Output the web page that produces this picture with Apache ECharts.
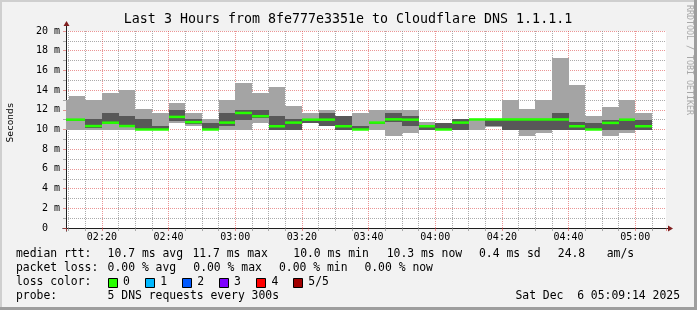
<!DOCTYPE html>
<html><head><meta charset="utf-8">
<script src="https://cdn.jsdelivr.net/npm/echarts@6/dist/echarts.min.js"></script>
<style>html,body{margin:0;padding:0;background:#f2f2f2}#c{width:697px;height:310px}</style>
</head><body><div id="c"></div>
<script>
// ---- data ----
const startTimes = ["02:05","02:10","02:15","02:20","02:25","02:30","02:35","02:40","02:45","02:50","02:55",
  "03:00","03:05","03:10","03:15","03:20","03:25","03:30","03:35","03:40","03:45","03:50","03:55",
  "04:00","04:05","04:10","04:15","04:20","04:25","04:30","04:35","04:40","04:45","04:50","04:55","05:00"];
const pingMin = [10.0,10.0,10.0,10.0,10.0,9.95,9.95,10.67,10.4,9.95,10.0,
  10.0,10.65,9.93,9.93,10.67,10.33,9.93,9.93,9.95,9.32,9.66,9.93,
  9.93,9.93,10.0,10.3,9.95,9.32,9.66,9.97,9.97,9.93,9.32,9.66,9.97];
const ping2 = [10.9,10.9,10.2,10.6,10.3,10.0,9.97,10.9,10.6,9.97,10.4,
  10.95,11.2,9.95,9.95,10.7,10.35,9.95,9.95,10.6,10.75,10.33,9.95,
  9.95,9.95,10.95,10.34,9.96,9.95,9.95,10.0,10.0,9.95,9.95,9.95,10.0];
const median = [11.0,11.0,10.35,10.69,10.35,10.0,10.0,11.28,10.75,10.0,10.7,
  11.68,11.35,10.33,10.7,11.0,11.0,10.33,10.0,10.7,11.03,11.0,10.33,
  10.0,10.7,11.02,11.02,11.02,11.02,11.02,11.02,10.33,10.0,10.67,11.0,10.33];
const ping4 = [11.1,11.1,11.05,11.69,11.39,11.05,10.37,11.96,11.05,10.68,11.69,
  11.96,11.96,11.38,11.05,11.05,11.68,11.38,10.34,10.8,11.69,11.38,10.4,
  10.67,11.05,11.05,11.05,11.05,11.05,11.05,11.68,10.77,10.64,11.01,11.05,11.01];
const pingMax = [13.04,13.38,12.97,13.72,14.0,12.06,11.69,12.7,11.68,11.05,12.97,
  14.72,13.72,14.32,12.36,11.68,12.0,11.4,11.68,11.96,11.96,11.96,10.77,
  10.68,11.06,11.08,11.1,12.97,12.05,12.97,17.22,14.49,11.35,12.26,12.97,11.68];
const axisStart = "02:09:14", axisEnd = "05:09:14";
const stepMinutes = 5;
const yMax = 20, yInterval = 2;

const titleText = "Last 3 Hours from 8fe777e3351e to Cloudflare DNS 1.1.1.1";
const rttStats = ["10.7 ms avg","11.7 ms max","10.0 ms min","10.3 ms now","0.4 ms sd","24.8","am/s"];
const lossStats = ["0.00 % avg","0.00 % max","0.00 % min","0.00 % now"];
const lossLabels = ["0","1","2","3","4","5/5"];
const lossColors = ["#26ff00","#00b8ff","#0059ff","#7e00ff","#ff0000","#a10000"];
const probeText = "5 DNS requests every 300s";
const dateText = "Sat Dec  6 05:09:14 2025";

(function(){
function toMin(s){const p=s.split(':').map(Number);return p[0]*60+p[1]+(p[2]||0)/60;}
const xMin = toMin(axisStart), xMax = toMin(axisEnd);
const data = startTimes.map((t,i)=>[toMin(t), pingMin[i], ping2[i], median[i], ping4[i], pingMax[i]]);
function fmt(v){const h=Math.floor(v/60), m=Math.round(v-h*60);return String(h).padStart(2,'0')+':'+String(m).padStart(2,'0');}

const MONO = "'DejaVu Sans Mono', monospace";
const GRID = 'rgba(143,143,143,0.75)';
const MGRID = 'rgba(222,79,79,0.6)';
const chart = echarts.init(document.getElementById('c'), null, {renderer:'canvas'});

function renderItem(params, api){
  const cs = params.coordSys;
  const t0 = api.value(0), t1 = t0 + stepMinutes;
  let xa = api.coord([t0,0])[0], xb = api.coord([t1,0])[0];
  xa = Math.round(Math.max(xa, cs.x)); xb = Math.round(Math.min(xb, cs.x + cs.width));
  const Y = v => api.coord([t0, v])[1];
  const r = (lo, hi, color) => {
    const yt = Math.round(Y(hi)), yb = Math.round(Y(lo));
    return {type:'rect', shape:{x:xa, y:yt, width:xb-xa, height:Math.max(yb-yt,0)}, style:{fill:color}};
  };
  const ym = Y(api.value(3));
  return {type:'group', children:[
    r(api.value(1), api.value(5), '#a4a4a4'),
    r(api.value(2), api.value(4), '#585858'),
    {type:'rect', shape:{x:xa, y:ym-1.25, width:xb-xa, height:2.5}, style:{fill:lossColors[0]}}
  ]};
}

const option = {
  animation:false,
  backgroundColor:'#f2f2f2',
  grid:{left:66, right:31, top:31, bottom:82, show:true, backgroundColor:'#ffffff', borderWidth:0, containLabel:false, outerBoundsMode:'none'},
  xAxis:{type:'value', min:xMin, max:xMax, splitNumber:9, minInterval:20, maxInterval:20,
    axisLine:{show:true, onZero:false, lineStyle:{color:'#1f1f1f', width:1}},
    axisTick:{show:true, length:3, lineStyle:{color:MGRID}},
    minorTick:{show:true, splitNumber:4, length:3, lineStyle:{color:GRID}},
    splitLine:{show:true, showMinLine:false, showMaxLine:false, lineStyle:{color:MGRID, type:[1,1], width:1}},
    minorSplitLine:{show:true, lineStyle:{color:GRID, type:[1,1], width:1}},
    axisLabel:{show:true, showMinLabel:false, showMaxLabel:false, margin:4, color:'#000', fontFamily:MONO, fontSize:10, formatter:fmt}
  },
  yAxis:{type:'value', min:0, max:yMax, interval:yInterval,
    axisLine:{show:true, onZero:false, lineStyle:{color:'#1f1f1f', width:1}},
    axisTick:{show:true, length:3, lineStyle:{color:MGRID}},
    minorTick:{show:true, splitNumber:2, length:3, lineStyle:{color:GRID}},
    splitLine:{show:true, showMinLine:false, lineStyle:{color:MGRID, type:[1,1], width:1}},
    minorSplitLine:{show:true, lineStyle:{color:GRID, type:[1,1], width:1}},
    axisLabel:{show:true, margin:6, color:'#000', fontFamily:MONO, fontSize:10, formatter:v=> v===0 ? '0  ' : v+' m'}
  },
  series:[{type:'custom', renderItem, data, encode:{x:0, y:[1,5]}, clip:true}]
};
chart.setOption(option);

// decorations
const o = chart.convertToPixel({gridIndex:0},[xMin,0]);
const tp = chart.convertToPixel({gridIndex:0},[xMin,yMax]);
const ep = chart.convertToPixel({gridIndex:0},[xMax,0]);
const ax = Math.round(o[0])+0.5, ay = Math.round(o[1])+0.5;
const ARROW = '#801f1f';
const g = [];
const txt = (text,x,y,font,extra) => ({type:'text', silent:true, style:Object.assign({text, x, y, font, fill:'#000', align:'left', verticalAlign:'middle'}, extra||{})});
g.push({type:'rect', shape:{x:0,y:0,width:697,height:2}, style:{fill:'#cfcfcf'}});
g.push({type:'rect', shape:{x:0,y:0,width:2,height:310}, style:{fill:'#cfcfcf'}});
g.push({type:'rect', shape:{x:0,y:307,width:697,height:3}, style:{fill:'#9e9e9e'}});
g.push({type:'rect', shape:{x:694,y:0,width:3,height:310}, style:{fill:'#9e9e9e'}});
g.push({type:'line', shape:{x1:ax, y1:ay+3, x2:ax, y2:tp[1]-5}, style:{stroke:'#1f1f1f', lineWidth:1}});
g.push({type:'line', shape:{x1:ax-4, y1:ay, x2:ep[0]+2, y2:ay}, style:{stroke:'#1f1f1f', lineWidth:1}});
g.push({type:'polygon', shape:{points:[[ax-3,tp[1]-5],[ax+3,tp[1]-5],[ax,tp[1]-10]]}, style:{fill:ARROW}});
g.push({type:'polygon', shape:{points:[[ep[0]+2,ay-3],[ep[0]+2,ay+3],[ep[0]+7,ay]]}, style:{fill:ARROW}});
g.push(txt(titleText, 348, 19.5, '13.3px '+MONO, {align:'center'}));
g.push({type:'text', silent:true, x:10.5, y:122.5, rotation:Math.PI/2, style:{text:'Seconds', x:0, y:0, font:'9.5px '+MONO, fill:'#000', align:'center', verticalAlign:'middle'}});
g.push({type:'text', silent:true, x:689, y:5, rotation:-Math.PI/2, style:{text:'RRDTOOL / TOBI OETIKER', x:0, y:0, font:'8.3px '+MONO, fill:'#a8a8a8', align:'left', verticalAlign:'middle'}});
const LF = '11.4px '+MONO;
g.push(txt('median rtt:', 16, 254.5, LF));
const rttX = [107.6,192.4,293.3,386.7,479,557.8,606.7];
rttStats.forEach((s,i)=>g.push(txt(s, rttX[i], 254.5, LF)));
g.push(txt('packet loss:', 16, 268.5, LF));
const lossX = [107.6,193.3,279,364.4];
lossStats.forEach((s,i)=>g.push(txt(s, lossX[i], 268.5, LF)));
g.push(txt('loss color:', 16, 282.5, LF));
const boxX = [108,145.3,182.2,219,256.4,293.3];
lossLabels.forEach((s,i)=>{
  g.push({type:'rect', shape:{x:Math.round(boxX[i])+0.5, y:278.5, width:9, height:9}, style:{fill:lossColors[i], stroke:'#000', lineWidth:1}});
  g.push(txt(s, boxX[i]+15, 282.5, LF));
});
g.push(txt('probe:', 16, 296.5, LF));
g.push(txt(probeText, 107.6, 296.5, LF));
g.push(txt(dateText, 680, 296.5, LF, {align:'right'}));
chart.setOption({graphic:{elements:g}});
})();
</script></body></html>
